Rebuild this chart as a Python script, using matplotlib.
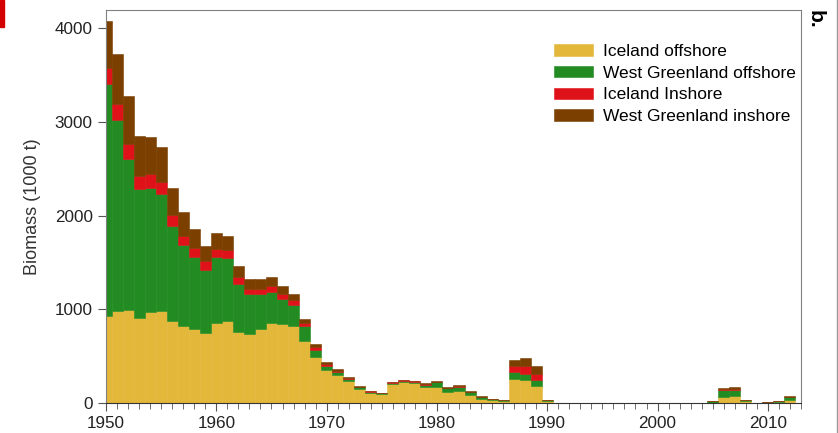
import numpy as np
import matplotlib
matplotlib.use("Agg")
import matplotlib.pyplot as plt
from matplotlib.patches import Rectangle
from matplotlib.lines import Line2D

plt.rcParams['font.family'] = ['Liberation Sans', 'DejaVu Sans']

# Data (1000 t), years 1950-2013
tahun = np.arange(1950, 2014)

iceland_offshore = [925, 979, 989, 911, 972, 986, 872, 826, 794, 751,
                    854, 872, 754, 737, 786, 854, 843, 826, 665, 488,
                    349, 302, 231, 149, 107, 96, 203, 228, 214, 167,
                    171, 117, 125, 85, 46, 32, 25, 253, 246, 185,
                    21, 0, 0, 0, 0, 0, 0, 0, 0, 0,
                    0, 0, 0, 0, 0, 5, 64, 71, 18, 0,
                    3, 8, 36, 0]
wgl_offshore = [2477, 2046, 1612, 1370, 1323, 1245, 1018, 864, 768, 672,
                701, 672, 520, 423, 374, 331, 267, 217, 154, 81,
                50, 29, 28, 18, 14, 6, 14, 10, 14, 30,
                50, 40, 45, 28, 15, 6, 2, 74, 67, 61,
                8, 0, 0, 0, 0, 0, 0, 0, 0, 0,
                0, 0, 0, 0, 0, 16, 75, 71, 16, 0,
                8, 12, 28, 0]
iceland_inshore = [175, 171, 161, 142, 150, 128, 114, 96, 93, 89,
                   86, 86, 68, 61, 61, 64, 57, 60, 39, 29,
                   21, 14, 8, 5, 3, 2, 3, 4, 4, 6,
                   8, 8, 9, 7, 5, 2, 0, 64, 86, 67,
                   3, 0, 0, 0, 0, 0, 0, 0, 0, 0,
                   0, 0, 0, 0, 0, 0, 6, 7, 1, 0,
                   0, 0, 3, 0]
wgl_inshore = [498, 534, 519, 431, 398, 371, 291, 250, 203, 168,
               178, 153, 117, 103, 103, 93, 86, 57, 42, 35,
               14, 18, 10, 6, 4, 3, 4, 4, 6, 7,
               9, 9, 10, 8, 5, 3, 1, 72, 78, 86,
               4, 0, 0, 0, 0, 0, 0, 0, 0, 0,
               0, 0, 0, 0, 0, 0, 15, 18, 1, 0,
               0, 1, 4, 0]

seri = [iceland_offshore, wgl_offshore, iceland_inshore, wgl_inshore]
label = ["Iceland offshore", "West Greenland offshore",
         "Iceland Inshore", "West Greenland inshore"]
warna = ["#E3B73A", "#228B22", "#DF1119", "#7B3F00"]

fig = plt.figure(figsize=(8.38, 4.33), dpi=100)
ax = fig.add_axes([0.1265, 0.0693, 0.8293, 0.9087])

dasar = np.zeros(len(tahun))
for nilai, lbl, c in zip(seri, label, warna):
    nilai = np.array(nilai, dtype=float)
    ax.bar(tahun, nilai, width=1.0, bottom=dasar, color=c, edgecolor=c,
           linewidth=0.4, label=lbl)
    dasar += nilai

ax.set_xlim(1950, 2013)
ax.set_ylim(0, 4200)
ax.set_yticks([0, 1000, 2000, 3000, 4000])
ax.set_xticks(np.arange(1950, 2011, 10))
ax.set_xticks(np.arange(1950, 2014, 1), minor=True)
ax.set_ylabel("Biomass (1000 t)", fontsize=13, color="#333333", labelpad=10)

for s in ["top", "right", "left"]:
    ax.spines[s].set_color("#808080")
ax.spines["bottom"].set_color("#333333")
ax.tick_params(axis="both", which="major", direction="out", length=6,
               color="#555555", labelsize=12.3, labelcolor="#222222")
ax.tick_params(axis="x", which="minor", direction="out", length=4,
               color="#555555")

ax.legend(loc="upper left", bbox_to_anchor=(0.645, 0.912), frameon=False,
          fontsize=12.5, handlelength=2.25, handleheight=0.63,
          handletextpad=0.55, labelspacing=0.38, borderpad=0, borderaxespad=0)

fig.text(0.9725, 0.978, "b.", rotation=-90, fontsize=15, fontweight="bold",
         ha="center", va="top")
fig.patches.append(Rectangle((0, 1 - 27 / 433), 4 / 838, 27 / 433,
                             transform=fig.transFigure, color="#D40000"))
fig.lines.append(Line2D([0.9985, 0.9985], [0, 1], transform=fig.transFigure,
                        color="#999999", lw=1))

fig.savefig("out.png", dpi=100)
